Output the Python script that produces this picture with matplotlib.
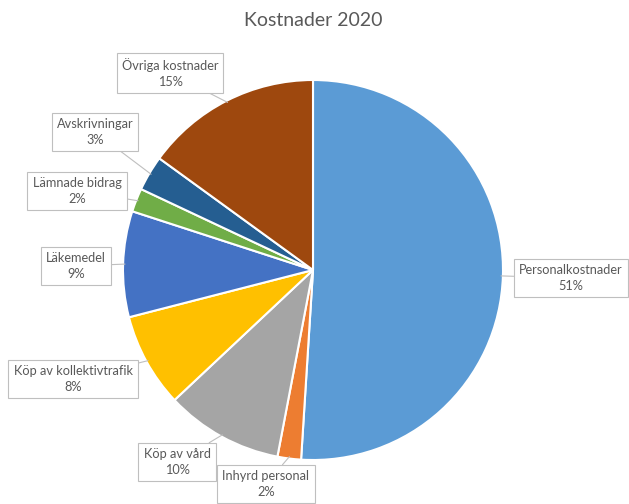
import matplotlib
matplotlib.use('Agg')
import matplotlib.pyplot as plt
import numpy as np

plt.rcParams['font.family'] = ['Lato', 'DejaVu Sans']

categories = ['Personalkostnader', 'Inhyrd personal', 'Köp av vård', 'Köp av kollektivtrafik',
              'Läkemedel', 'Lämnade bidrag', 'Avskrivningar', 'Övriga kostnader']
values = [51, 2, 10, 8, 9, 2, 3, 15]
colors = ['#5B9BD5', '#ED7D31', '#A5A5A5', '#FFC000', '#4472C4', '#70AD47', '#255E91', '#9E480E']
# label box centres in pixels (x, y from top)
label_px = [(571, 278), (266, 484), (177, 462), (73, 379), (76, 266), (77, 191), (95, 132), (170, 73)]

W, H = 629, 504
cx, cy, r = 313, 270, 190

fig = plt.figure(figsize=(W / 100, H / 100), dpi=100)
ax = fig.add_axes([(cx - r) / W, (H - cy - r) / H, 2 * r / W, 2 * r / H])
wedges, _ = ax.pie(values, colors=colors, startangle=90, counterclock=False, radius=1,
                   wedgeprops=dict(edgecolor='white', linewidth=1.5))
ax.set_xlim(-1, 1)
ax.set_ylim(-1, 1)
ax.set_aspect('equal')
ax.axis('off')

total = sum(values)
for w, cat, val, (px, py) in zip(wedges, categories, values, label_px):
    mid = np.deg2rad((w.theta1 + w.theta2) / 2)
    xy = (0.99 * np.cos(mid), 0.99 * np.sin(mid))
    tx, ty = (px - cx) / r, (cy - py) / r
    ax.annotate('%s\n%d%%' % (cat, round(val / total * 100)), xy=xy, xytext=(tx, ty),
                ha='center', va='center', fontsize=9.2, color='#595959', linespacing=1.35,
                bbox=dict(boxstyle='square,pad=0.4', fc='white', ec='#BFBFBF', lw=0.8),
                arrowprops=dict(arrowstyle='-', color='#BFBFBF', lw=0.8, shrinkA=0, shrinkB=0),
                annotation_clip=False)

fig.text(cx / W, 1 - 20 / H, 'Kostnader 2020', ha='center', va='center', fontsize=14, color='#595959')

fig.savefig('out.png', dpi=100)
